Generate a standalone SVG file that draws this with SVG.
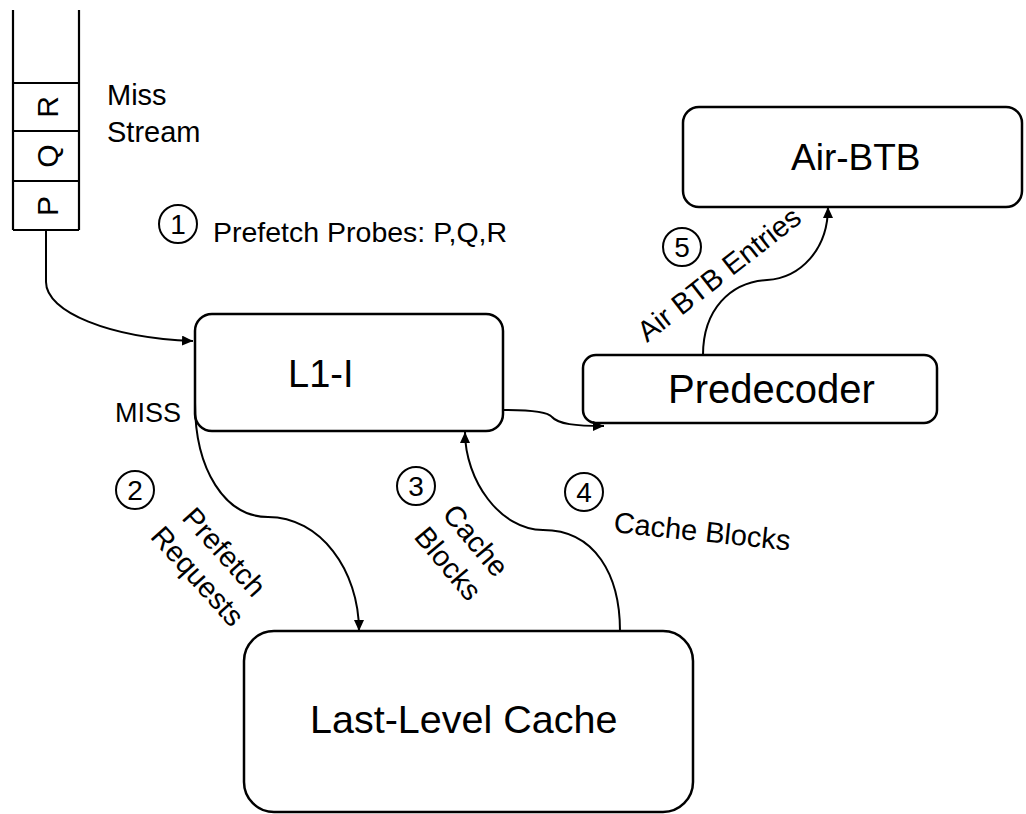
<svg xmlns="http://www.w3.org/2000/svg" width="1026" height="814" viewBox="0 0 1026 814">
<style>
.box{fill:#fff;stroke:#000;stroke-width:2.5}
.ln{fill:none;stroke:#000;stroke-width:2.2}
.con{fill:none;stroke:#000;stroke-width:2}
.t{font-family:"Liberation Sans",Arial,sans-serif;fill:#000}
.c{fill:none;stroke:#000;stroke-width:2}
</style>
<defs>
<marker id="arr" markerUnits="userSpaceOnUse" markerWidth="12" markerHeight="10" refX="11" refY="5" orient="auto">
<path d="M0,0 L11,5 L0,10 Z" fill="#000"/>
</marker>
</defs>
<rect width="1026" height="814" fill="#fff"/>
<g id="miss-stream">
<path class="ln" d="M13,10 V230 M79,10 V230 M13,83 H79 M13,131 H79 M13,181 H79 M13,230 H79"/>
<text class="t" font-size="30" text-anchor="middle" transform="translate(47,107) rotate(-90)" y="10.5">R</text>
<text class="t" font-size="30" text-anchor="middle" transform="translate(47,156) rotate(-90)" y="10.5">Q</text>
<text class="t" font-size="30" text-anchor="middle" transform="translate(47,206) rotate(-90)" y="10.5">P</text>
<text class="t" font-size="29" x="107" y="105">Miss</text>
<text class="t" font-size="29" x="107" y="142">Stream</text>
</g>
<g id="l1i">
<rect class="box" x="195" y="314" width="308" height="117" rx="17"/>
<text class="t" font-size="38" x="288" y="387">L1-I</text>
</g>
<g id="predecoder">
<rect class="box" x="583" y="355" width="354" height="68" rx="13"/>
<text class="t" font-size="40" x="668" y="403">Predecoder</text>
</g>
<g id="airbtb">
<rect class="box" x="683" y="107" width="339" height="100" rx="16"/>
<text class="t" font-size="37" x="791" y="170">Air-BTB</text>
</g>
<g id="llc">
<rect class="box" x="244" y="631" width="449" height="181" rx="30"/>
<text class="t" font-size="39.5" x="310" y="733">Last-Level Cache</text>
</g>
<g id="connectors">
<path class="con" d="M46,230 V282 C46,312 110,338 193,341" marker-end="url(#arr)"/>
<path class="con" d="M195,403 C195,470 225,517 268,517 C320,517 359,570 359,631" marker-end="url(#arr)"/>
<path class="con" d="M620,631 C620,575 595,530 543,530 C500,530 465,480 465,432" marker-end="url(#arr)"/>
<path class="con" d="M503,410 C530,410 548,412 552,417 C558,424 575,426 604,426" marker-end="url(#arr)"/>
<path class="con" d="M703,355 C703,310 730,282 767,280 C800,278 828,250 828,207" marker-end="url(#arr)"/>
</g>
<g id="labels">
<circle class="c" cx="178" cy="224" r="19"/>
<text class="t" font-size="28" text-anchor="middle" x="178" y="234">1</text>
<text class="t" font-size="28.5" x="213" y="242">Prefetch Probes: P,Q,R</text>
<text class="t" font-size="27" x="115" y="422">MISS</text>
<circle class="c" cx="135" cy="490" r="19"/>
<text class="t" font-size="28" text-anchor="middle" x="135" y="500">2</text>
<text class="t" font-size="29" text-anchor="middle" transform="translate(211,564) rotate(48)"><tspan x="0" y="-8">Prefetch</tspan><tspan x="0" y="28">Requests</tspan></text>
<circle class="c" cx="416" cy="486" r="19"/>
<text class="t" font-size="28" text-anchor="middle" x="416" y="496">3</text>
<text class="t" font-size="29" text-anchor="middle" transform="translate(462,552) rotate(50)"><tspan x="0" y="-8">Cache</tspan><tspan x="0" y="28">Blocks</tspan></text>
<circle class="c" cx="584" cy="492" r="19"/>
<text class="t" font-size="28" text-anchor="middle" x="584" y="502">4</text>
<text class="t" font-size="29" transform="translate(613,532) rotate(6)">Cache Blocks</text>
<circle class="c" cx="682" cy="247" r="19"/>
<text class="t" font-size="28" text-anchor="middle" x="682" y="257">5</text>
<text class="t" font-size="29" transform="translate(647,343) rotate(-38)">Air BTB Entries</text>
</g>
</svg>
